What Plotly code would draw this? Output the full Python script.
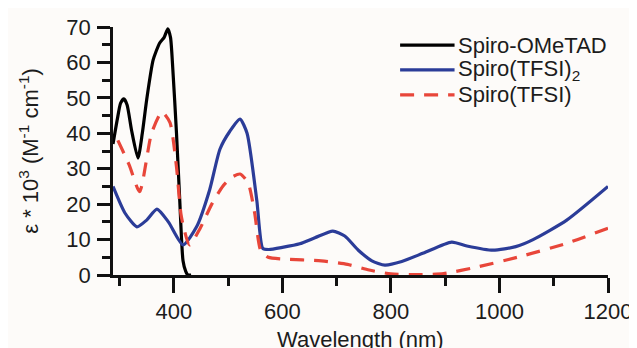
import plotly.graph_objects as go

# ---- data ----
wl_ometad = [288, 296, 302, 308, 314, 322, 334, 342, 350, 362, 374, 382, 389, 394, 398, 405, 411, 417, 422, 426, 432]
eps_ometad = [37, 44, 48.5, 49.7, 48, 41, 33, 40, 49.4, 60.7, 65.5, 67, 69.5, 67, 58.7, 40, 21, 4, 1, 0, 0]

wl_tfsi2 = [288, 310, 332, 350, 369, 390, 417, 442, 466, 485, 503, 522, 535, 553, 564, 575, 600, 632, 660, 693,
            715, 740, 765, 789, 820, 860, 912, 940, 988, 1030, 1062, 1124, 1200]
eps_tfsi2 = [25, 17.5, 13.6, 15.5, 18.6, 15, 8.5, 13.6, 24, 35.5, 40.5, 44, 40, 21, 7.5, 7.2, 7.8, 8.8, 10.5, 12.4,
             11, 7, 4, 2.8, 3.8, 6.2, 9.3, 8.2, 7, 8, 10, 15.5, 25]

wl_tfsi = [297, 318, 337, 359, 378, 393, 405, 414, 429, 448, 470, 490, 506, 522, 537, 549, 560, 574, 600, 672,
           720, 760, 800, 850, 897, 960, 1033, 1125, 1200]
eps_tfsi = [38, 31, 23.5, 40, 46, 43, 30.5, 16.4, 8.5, 13, 20, 25, 27.5, 28.5, 26, 17.5, 7, 5, 4.5, 4,
            3, 1.4, 0.3, 0.1, 0.4, 2.3, 5, 9, 13.2]

names = ["Spiro-OMeTAD", "Spiro(TFSI)<sub>2</sub>", "Spiro(TFSI)"]
colors = ["#000000", "#2b3c98", "#e8463a"]
dashes = ["solid", "solid", "14px,10px"]

x_ticks = [400, 600, 800, 1000, 1200]
y_ticks = [0, 10, 20, 30, 40, 50, 60, 70]
x_title = "Wavelength (nm)"
y_title = "ε * 10<sup>3</sup> (M<sup>-1</sup> cm<sup>-1</sup>)"

FONT = "Liberation Sans, Arial, sans-serif"
TXT = "#1c1c1c"
FS = 22

fig = go.Figure()
series = [(wl_ometad, eps_ometad), (wl_tfsi2, eps_tfsi2), (wl_tfsi, eps_tfsi)]
for (x, y), n, c, d in zip(series, names, colors, dashes):
    fig.add_trace(go.Scatter(x=x, y=y, mode="lines", name=n,
                             line=dict(color=c, width=3.2, dash=d, shape="spline", smoothing=0.6),
                             showlegend=False))

# manual legend (line sample + text)
leg_y = [0.927, 0.827, 0.726]
for n, c, d, yy in zip(names, colors, dashes, leg_y):
    fig.add_shape(type="line", xref="paper", yref="paper", x0=0.580, x1=0.690, y0=yy, y1=yy,
                  line=dict(color=c, width=3.2, dash=d))
    fig.add_annotation(xref="paper", yref="paper", x=0.692, y=yy, text=n, showarrow=False,
                       xanchor="left", yanchor="middle", font=dict(family=FONT, size=FS, color=TXT))

# x-axis title placed low (partly cut at the bottom edge, as in the reference)
fig.add_annotation(xref="paper", yref="paper", x=0.5, y=-0.262, text=x_title, showarrow=False,
                   xanchor="center", yanchor="middle", font=dict(family=FONT, size=FS, color=TXT))

# the page body adds an 8px margin at top/left, so the figure is 8px smaller
fig.update_layout(
    width=629, height=340,
    margin=dict(l=105, r=29, t=19, b=73),
    paper_bgcolor="#fdfbf9", plot_bgcolor="#fdfbf9",
    font=dict(family=FONT, size=FS, color=TXT),
    showlegend=False,
)
fig.update_xaxes(
    range=[288, 1200], showgrid=False, zeroline=False, automargin=False,
    showline=True, linecolor="#111", linewidth=2.5,
    tickvals=x_ticks, ticks="outside", ticklen=15, tickwidth=2.5, tickcolor="#111",
    minor=dict(tickvals=[300, 500, 700, 900, 1100], ticks="outside", ticklen=8, tickwidth=2.5, tickcolor="#111"),
    tickfont=dict(size=FS, family=FONT, color=TXT),
)
fig.update_yaxes(
    range=[0, 70], showgrid=False, zeroline=False, automargin=False,
    showline=True, linecolor="#111", linewidth=2.5,
    tickvals=y_ticks, ticks="outside", ticklen=13, tickwidth=2.5, tickcolor="#111",
    minor=dict(dtick=5, tick0=0, ticks="outside", ticklen=8, tickwidth=2.5, tickcolor="#111"),
    tickfont=dict(size=FS, family=FONT, color=TXT), ticklabelstandoff=2,
    title=dict(text=y_title, font=dict(size=FS, family=FONT, color=TXT), standoff=22),
)

fig.write_html("out.html")
